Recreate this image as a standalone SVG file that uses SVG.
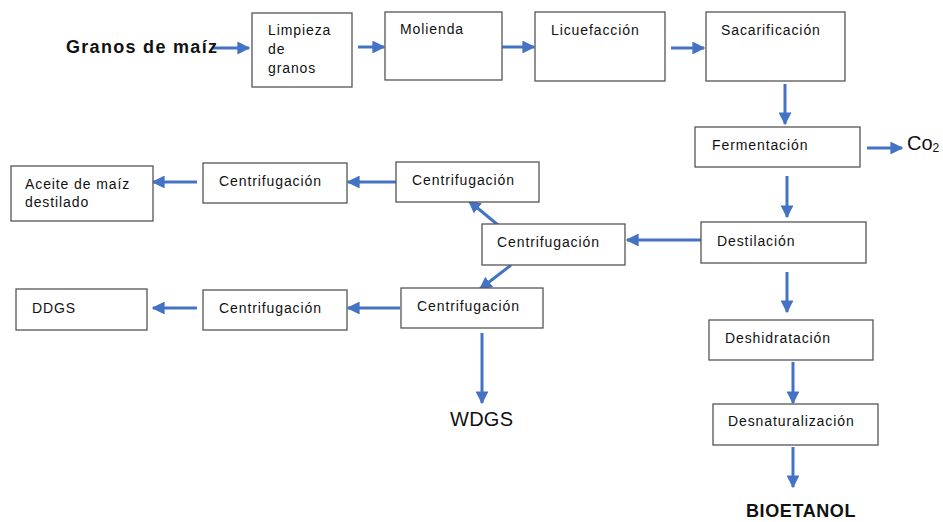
<svg xmlns="http://www.w3.org/2000/svg" width="943" height="522" viewBox="0 0 943 522">
<style>
.box{fill:#fff;stroke:#555;stroke-width:1.3}
.t{font-family:"Liberation Sans",Arial,sans-serif;font-size:14px;letter-spacing:0.9px;fill:#111}
.big{font-family:"Liberation Sans",Arial,sans-serif;font-weight:bold;font-size:18px;fill:#111}
.lbl{font-family:"Liberation Sans",Arial,sans-serif;font-size:20px;fill:#111}
.c{stroke:#4472C4;stroke-width:3;fill:none;marker-end:url(#ah)}
</style>
<defs>
<marker id="ah" viewBox="0 0 10 10" refX="9" refY="5" markerWidth="4.3" markerHeight="4.3" orient="auto" markerUnits="strokeWidth">
<path d="M0,0 L10,5 L0,10 z" fill="#4472C4"/>
</marker>
</defs>
<rect width="943" height="522" fill="#fff"/>
<g id="connectors">
<line class="c" x1="213" y1="48" x2="249" y2="48"/>
<line class="c" x1="358" y1="47" x2="384" y2="47"/>
<line class="c" x1="502" y1="47" x2="534" y2="47"/>
<line class="c" x1="671" y1="48" x2="704" y2="48"/>
<line class="c" x1="785" y1="84" x2="785" y2="124"/>
<line class="c" x1="867" y1="148" x2="902" y2="148"/>
<line class="c" x1="787" y1="176" x2="787" y2="217"/>
<line class="c" x1="701" y1="240" x2="627" y2="240"/>
<line class="c" x1="498" y1="225" x2="469" y2="201"/>
<line class="c" x1="511" y1="265" x2="480" y2="289"/>
<line class="c" x1="396" y1="182" x2="348" y2="182"/>
<line class="c" x1="197" y1="182" x2="153" y2="182"/>
<line class="c" x1="400" y1="308" x2="348" y2="308"/>
<line class="c" x1="197" y1="308" x2="153" y2="308"/>
<line class="c" x1="482" y1="333" x2="482" y2="403"/>
<line class="c" x1="787" y1="272" x2="787" y2="312"/>
<line class="c" x1="793" y1="362" x2="793" y2="403"/>
<line class="c" x1="793" y1="447" x2="793" y2="487"/>
</g>
<g id="granos"><text class="big" x="66" y="53" letter-spacing="1.3">Granos de maíz</text></g>
<g id="limpieza"><rect class="box" x="252" y="13" width="100" height="74"/>
<text class="t" x="268" y="35">Limpieza</text><text class="t" x="268" y="54">de</text><text class="t" x="268" y="73">granos</text></g>
<g id="molienda"><rect class="box" x="385" y="12" width="117" height="68"/><text class="t" x="400" y="34">Molienda</text></g>
<g id="licuefaccion"><rect class="box" x="535" y="12" width="130" height="69"/><text class="t" x="551" y="35">Licuefacción</text></g>
<g id="sacarificacion"><rect class="box" x="706" y="12" width="139" height="69"/><text class="t" x="721" y="35">Sacarificación</text></g>
<g id="fermentacion"><rect class="box" x="695" y="127" width="165" height="40"/><text class="t" x="712" y="150">Fermentación</text></g>
<g id="co2"><text class="lbl" x="907" y="150" font-size="18">Co<tspan font-size="12" dy="2">2</tspan></text></g>
<g id="destilacion"><rect class="box" x="701" y="222" width="165" height="41"/><text class="t" x="717" y="246">Destilación</text></g>
<g id="deshidratacion"><rect class="box" x="709" y="320" width="164" height="40"/><text class="t" x="725" y="343">Deshidratación</text></g>
<g id="desnaturalizacion"><rect class="box" x="713" y="404" width="165" height="41"/><text class="t" x="728" y="426">Desnaturalización</text></g>
<g id="bioetanol"><text class="big" x="746" y="517" letter-spacing="0.6">BIOETANOL</text></g>
<g id="centrif-mid"><rect class="box" x="482" y="224" width="143" height="41"/><text class="t" x="497" y="247">Centrifugación</text></g>
<g id="centrif-up"><rect class="box" x="396" y="162" width="143" height="40"/><text class="t" x="412" y="185">Centrifugación</text></g>
<g id="centrif-low"><rect class="box" x="401" y="288" width="142" height="40"/><text class="t" x="417" y="311">Centrifugación</text></g>
<g id="centrif-up-left"><rect class="box" x="203" y="163" width="144" height="40"/><text class="t" x="219" y="186">Centrifugación</text></g>
<g id="centrif-low-left"><rect class="box" x="203" y="290" width="144" height="40"/><text class="t" x="219" y="313">Centrifugación</text></g>
<g id="aceite"><rect class="box" x="11" y="166" width="142" height="55"/>
<text class="t" x="25" y="189">Aceite de maíz</text><text class="t" x="25" y="207">destilado</text></g>
<g id="ddgs"><rect class="box" x="16" y="289" width="131" height="41"/><text class="t" x="32" y="313">DDGS</text></g>
<g id="wdgs"><text class="lbl" x="450" y="426" textLength="63">WDGS</text></g>
</svg>
